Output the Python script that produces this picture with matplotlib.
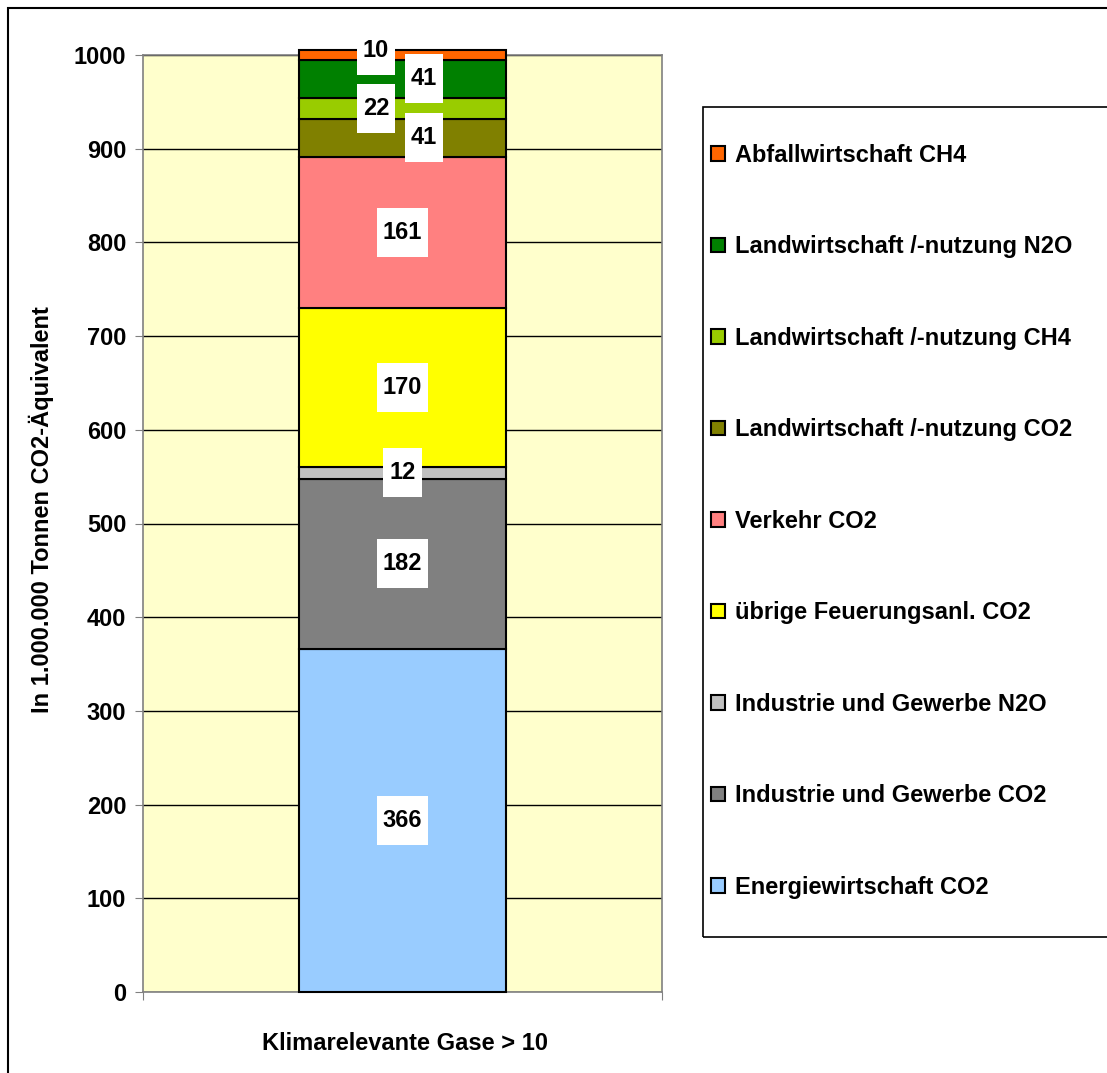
import matplotlib.pyplot as plt
from matplotlib.patches import Rectangle
from matplotlib.path import Path

plt.rcParams['font.family'] = ['Liberation Sans', 'DejaVu Sans']
plt.rcParams['font.weight'] = 'bold'

# ---------- Daten ----------
category = "Klimarelevante Gase > 10"
sectors = [
    "Energiewirtschaft CO2",
    "Industrie und Gewerbe CO2",
    "Industrie und Gewerbe N2O",
    "übrige Feuerungsanl. CO2",
    "Verkehr CO2",
    "Landwirtschaft /-nutzung CO2",
    "Landwirtschaft /-nutzung CH4",
    "Landwirtschaft /-nutzung N2O",
    "Abfallwirtschaft CH4",
]
values = [366, 182, 12, 170, 161, 41, 22, 41, 10]
colors = ["#99CCFF", "#808080", "#C0C0C0", "#FFFF00", "#FF8080",
          "#808000", "#99CC00", "#008000", "#FF6600"]
# Label-Verschiebung (x in Kategorie-Einheiten, y in Datenwerten), wie im Original verschoben
label_dx = [0, 0, 0, 0, 0, 0.041, -0.051, 0.041, -0.051]
label_dy = [0, 0, 0, 0, 0, 0, 0, 0, 5]

FS = 17


def excel_box(x0, y0, width, height, mutation_size):
    # weißes Kästchen wie in Excel: wenig Rand seitlich, viel oben/unten
    px = 0.25 * mutation_size
    py = 0.55 * mutation_size
    x0, y0 = x0 - px, y0 - py
    x1, y1 = x0 + width + 2 * px, y0 + height + 2 * py
    return Path([(x0, y0), (x1, y0), (x1, y1), (x0, y1), (x0, y0)], closed=True)


fig = plt.figure(figsize=(11.07, 10.73), dpi=100)
W, H = 1107, 1073

# Rahmen des Diagrammbereichs
fig.patches.append(Rectangle((8 / W, 1 - 1080 / H), 1.2, 1 - 8 / H - (1 - 1080 / H),
                             transform=fig.transFigure, fill=False,
                             edgecolor="black", linewidth=1.5))

ax = fig.add_axes([143 / W, 1 - 992 / H, (662 - 143) / W, (992 - 55) / H])
ax.set_facecolor("#FFFFCC")

bottom = 0
for i, (name, v, c) in enumerate(zip(sectors, values, colors)):
    ax.bar(0, v, bottom=bottom, width=0.4, color=c, edgecolor="black",
           linewidth=1.5, label=name, zorder=3, clip_on=False)
    ax.text(0 + label_dx[i], bottom + v / 2 + label_dy[i], str(v),
            ha="center", va="center", fontsize=FS, fontweight="bold", zorder=5,
            clip_on=False,
            bbox=dict(boxstyle=excel_box, facecolor="white", edgecolor="none"))
    bottom += v

ax.set_xlim(-0.5, 0.5)
ax.set_ylim(0, 1000)
ax.set_yticks(range(0, 1001, 100))
ax.yaxis.grid(True, color="black", linewidth=1, zorder=1)
ax.set_axisbelow(True)

ax.set_xticks([-0.5, 0.5])
ax.set_xticklabels(["", ""])
ax.tick_params(axis="x", length=6, color="#808080", direction="out")
ax.tick_params(axis="y", length=6, color="#808080", direction="out",
               labelsize=FS, pad=6)
for lab in ax.get_yticklabels():
    lab.set_fontweight("bold")
for sp in ax.spines.values():
    sp.set_color("#808080")
    sp.set_linewidth(1.2)

ax.set_ylabel("In 1.000.000 Tonnen CO2-Äquivalent", fontsize=FS,
              fontweight="bold")
ax.yaxis.set_label_coords(-0.172, 0.515)
fig.text(405 / W, 1 - 1043 / H, category, ha="center", va="center",
         fontsize=FS, fontweight="bold")

# Legende mit eigenem Rahmen
fig.patches.append(Rectangle((703 / W, 1 - 937 / H), 0.5, (937 - 107) / H,
                             transform=fig.transFigure, fill=False,
                             edgecolor="black", linewidth=1.2))
handles, labels = ax.get_legend_handles_labels()
leg = fig.legend(handles[::-1], labels[::-1], loc="upper left",
                 bbox_to_anchor=(711 / W, 1 - 144 / H), frameon=False,
                 fontsize=FS, handlelength=0.58, handleheight=0.58,
                 handletextpad=0.42, labelspacing=2.9, borderpad=0,
                 borderaxespad=0)
for t in leg.get_texts():
    t.set_fontweight("bold")

fig.savefig("out.png", dpi=100)
